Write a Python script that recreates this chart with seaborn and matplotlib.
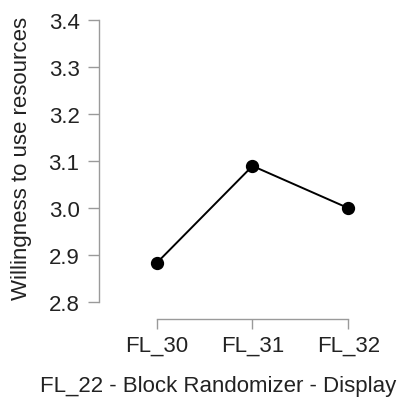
import seaborn as sns
import matplotlib.pyplot as plt

groups = ['FL_30', 'FL_31', 'FL_32']
means = [2.883, 3.09, 3.0]
yticks = [2.8, 2.9, 3.0, 3.1, 3.2, 3.3, 3.4]

sns.set_style("ticks")
plt.rcParams['font.family'] = ['Liberation Sans', 'DejaVu Sans']

fig = plt.figure(figsize=(4.06, 4.02), dpi=100)
ax = fig.add_axes([99 / 406, 82 / 402, 307 / 406, 308 / 402])

sns.pointplot(x=groups, y=means, color='black', markers='o', linestyles='-',
              errorbar=None, markersize=8.5, linewidth=1.4, ax=ax)

ax.set_xlim(-0.6, 2.6)
ax.set_ylim(2.764, 3.42)
ax.set_yticks(yticks)
ax.set_yticklabels([f'{v:.1f}' for v in yticks])

sns.despine(ax=ax)
ax.spines['left'].set_bounds(2.8, 3.4)
ax.spines['bottom'].set_bounds(0, 2)
for s in ['left', 'bottom']:
    ax.spines[s].set_color('#9a9a9a')
    ax.spines[s].set_linewidth(1.0)

ax.tick_params(axis='y', length=8, width=1.0, color='#9a9a9a', pad=6,
               labelsize=16, labelcolor='#222222')
ax.tick_params(axis='x', length=7.5, width=1.0, color='#9a9a9a', pad=4,
               labelsize=16, labelcolor='#222222')

ax.set_xlabel('FL_22 - Block Randomizer - Display', fontsize=16, color='#222222', labelpad=14)
ax.set_ylabel('Willingness to use resources', fontsize=16, color='#222222', labelpad=12)
# labels are centred on the whole figure rather than the axes in the original
ax.xaxis.label.set_x(0.388)
ax.yaxis.label.set_y(0.523)

fig.savefig('out.png', dpi=100)
